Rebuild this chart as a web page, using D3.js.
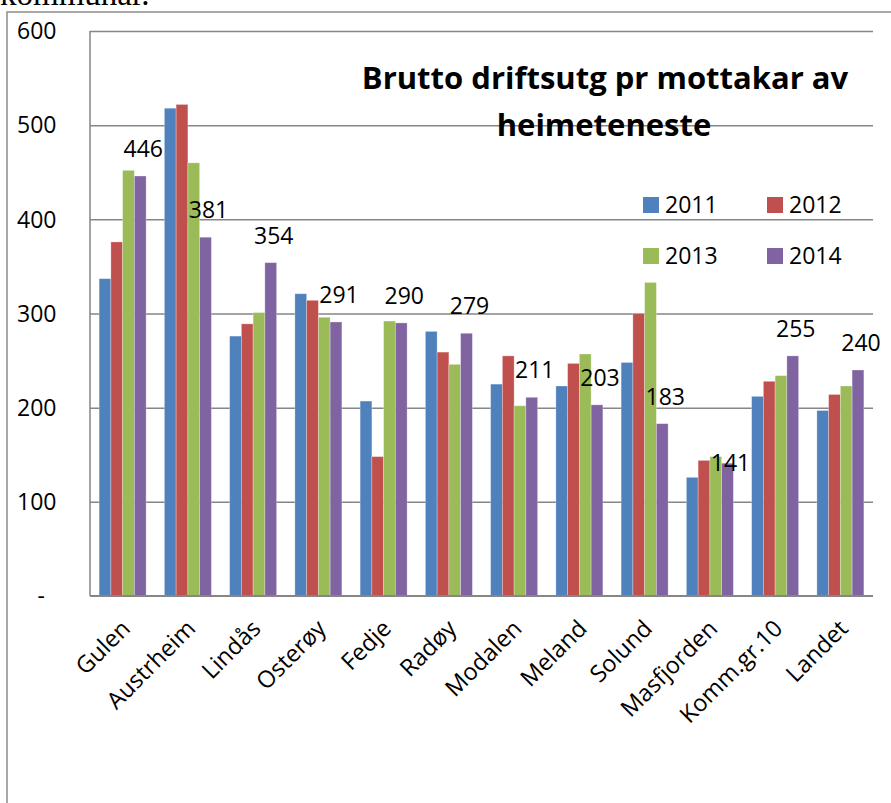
<!DOCTYPE html>
<html lang="nb">
<head>
<meta charset="UTF-8">
<title>Brutto driftsutg pr mottakar av heimeteneste</title>
<script src="https://cdnjs.cloudflare.com/ajax/libs/d3/7.8.5/d3.min.js"></script>
<style>
  html, body { margin: 0; padding: 0; background: #fff; overflow: hidden; }
  svg { display: block; }
  text { font-family: "Open Sans", "Liberation Sans", sans-serif; fill: #000; }
</style>
</head>
<body>
<svg id="chart" width="891" height="803"></svg>
<script>
const kommunar = ["Gulen", "Austrheim", "Lindås", "Osterøy", "Fedje", "Radøy", "Modalen", "Meland", "Solund", "Masfjorden", "Komm.gr.10", "Landet"];
const years = ["2011", "2012", "2013", "2014"];
const v2011 = [337, 518, 276, 321, 207, 281, 225, 223, 248, 126, 212, 197];
const v2012 = [376, 522, 289, 314, 148, 259, 255, 247, 300, 144, 228, 214];
const v2013 = [452, 460, 301, 296, 292, 246, 202, 257, 333, 148, 234, 223];
const v2014 = [446, 381, 354, 291, 290, 279, 211, 203, 183, 141, 255, 240];
const yTicks = [0, 100, 200, 300, 400, 500, 600];
const colors = ["#4f81bd", "#c0504d", "#9bbb59", "#8064a2"];

const series = [v2011, v2012, v2013, v2014];
const svg = d3.select("#chart");

// innleiingstekst som er kutta i toppen (slik som i originalen)
svg.append("text")
  .attr("x", 0).attr("y", 5)
  .style("font-family", "'Liberation Serif', serif")
  .style("font-size", "33px")
  .text("kommunar.");

// ramme rundt diagrammet
svg.append("rect")
  .attr("x", 7).attr("y", 12).attr("width", 900).attr("height", 820)
  .attr("fill", "none").attr("stroke", "#8c8c8c").attr("stroke-width", 1.5);

const pLeft = 90, pRight = 873, pTop = 31, pBottom = 596;

const x0 = d3.scaleBand().domain(kommunar).range([pLeft, pRight])
  .paddingInner(0.28).paddingOuter(0.14);
const x1 = d3.scaleBand().domain(years).range([0, x0.bandwidth()]);
const y = d3.scaleLinear().domain([0, 600]).range([pBottom, pTop]);

// rutenett
svg.append("g")
  .attr("transform", `translate(${pLeft},0)`)
  .call(d3.axisLeft(y).tickValues(yTicks.filter(t => t > 0)).tickSize(-(pRight - pLeft)).tickFormat(""))
  .call(g => g.select(".domain").remove())
  .call(g => g.selectAll("line").attr("stroke", "#868686").attr("stroke-width", 1.5));

// y-aksetekstar
svg.append("g").selectAll("text")
  .data(yTicks)
  .join("text")
  .attr("x", d => d === 0 ? 45 : 17)
  .attr("y", d => y(d))
  .attr("dy", "0.36em")
  .attr("text-anchor", d => d === 0 ? "end" : "start")
  .style("font-size", "23px")
  .text(d => d === 0 ? "-" : d);

// stolpar
const groups = svg.append("g").selectAll("g")
  .data(kommunar)
  .join("g")
  .attr("transform", d => `translate(${x0(d)},0)`);

groups.selectAll("rect")
  .data((d, i) => years.map((yr, j) => ({ yr, v: series[j][i], c: colors[j] })))
  .join("rect")
  .attr("x", d => x1(d.yr))
  .attr("y", d => y(d.v))
  .attr("width", x1.bandwidth())
  .attr("height", d => y(0) - y(d.v))
  .attr("fill", d => d.c)
  .attr("stroke", "rgba(255,255,255,0.35)")
  .attr("stroke-width", 0.8);

// aksar
svg.append("line").attr("x1", pLeft).attr("x2", pLeft).attr("y1", pTop).attr("y2", pBottom)
  .attr("stroke", "#868686").attr("stroke-width", 1.5);
svg.append("line").attr("x1", pLeft).attr("x2", pRight).attr("y1", pBottom).attr("y2", pBottom)
  .attr("stroke", "#868686").attr("stroke-width", 2);

// dataetikettar for 2014
const labelNudge = { "Masfjorden": 27 };
svg.append("g").selectAll("text")
  .data(kommunar)
  .join("text")
  .attr("x", d => x0(d) + x1("2014") + x1.bandwidth() / 2 + 3)
  .attr("y", (d, i) => y(v2014[i]) - 19 + (labelNudge[d] || 0))
  .attr("text-anchor", "middle")
  .style("font-size", "23px")
  .text((d, i) => v2014[i]);

// kategoritekstar
svg.append("g").selectAll("text")
  .data(kommunar)
  .join("text")
  .attr("transform", d => `translate(${x0(d) + x0.bandwidth() / 2 - 3},${pBottom + 22}) rotate(-45)`)
  .attr("text-anchor", "end")
  .attr("dy", "0.72em")
  .style("font-size", "23.5px")
  .text(d => d);

// tittel
const title = svg.append("text")
  .attr("text-anchor", "middle")
  .style("font-size", "31px")
  .style("font-weight", "bold");
title.append("tspan").attr("x", 605).attr("y", 89).text("Brutto driftsutg pr mottakar av");
title.append("tspan").attr("x", 604).attr("y", 136).text("heimeteneste");

// forklaring
const legend = svg.append("g").selectAll("g")
  .data(years)
  .join("g")
  .attr("transform", (d, i) => `translate(${643 + (i % 2) * 124},${197 + Math.floor(i / 2) * 51})`);
legend.append("rect").attr("width", 16).attr("height", 16).attr("fill", (d, i) => colors[i]);
legend.append("text").attr("x", 22).attr("y", 16).style("font-size", "23px").text(d => d);
</script>
</body>
</html>
